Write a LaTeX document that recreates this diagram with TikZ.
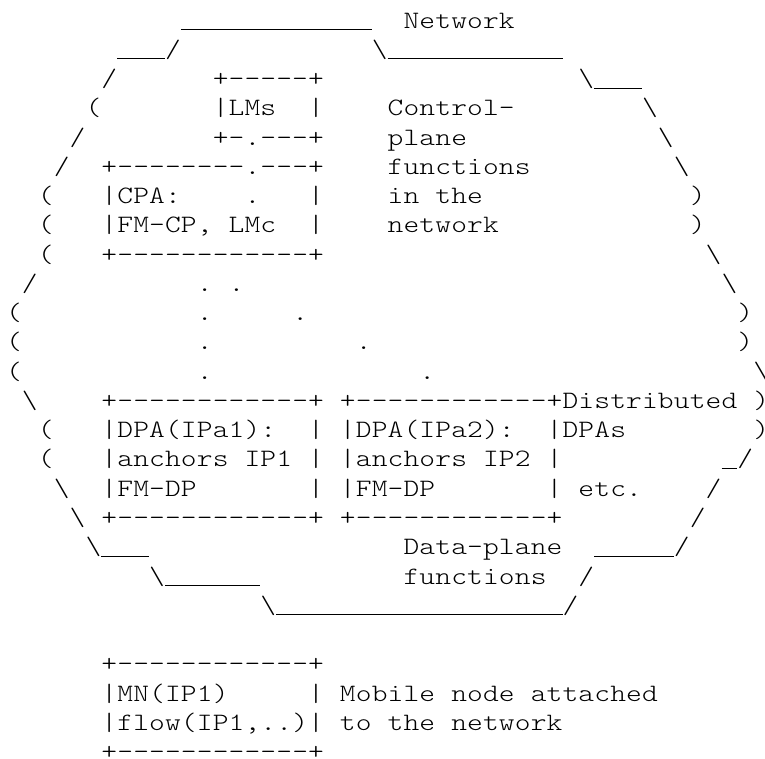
\documentclass[tikz,border=0pt]{standalone}
\usepackage{fontspec}
\newfontfamily\asciifont{lmmonolt10-regular.otf}[FakeStretch=1.2]
\newcommand\asbs{\textbackslash}
\newcommand\asus{\rule[-2pt]{15.9pt}{1.1pt}}
\makeatletter
\def\cell@end{\cell@end@mark}
\def\cellrow#1{\cell@step#1\cell@end}
\def\cell@step#1{\ifx#1\cell@end\else\makebox[15.9pt][c]{#1}\expandafter\cell@step\fi}
\makeatother
\begin{document}
\begin{tikzpicture}[x=1pt,y=1pt,
  ascii/.style={font=\asciifont\fontsize{25}{29.25}\selectfont, anchor=base west, inner sep=0pt, outer sep=0pt}]
\useasboundingbox (0,0) rectangle (765,758);
\fill[white] (0,0) rectangle (765,758);
\node[ascii] (r1) at (6,729.75) {\cellrow{~~~~~~~~~~~\asus\asus\asus\asus\asus\asus\asus\asus\asus\asus\asus\asus~~Network}};
\node[ascii] (r2) at (6,700.5) {\cellrow{~~~~~~~\asus\asus\asus/~~~~~~~~~~~~\asbs\asus\asus\asus\asus\asus\asus\asus\asus\asus\asus\asus}};
\node[ascii] (r3) at (6,671.25) {\cellrow{~~~~~~/~~~~~~+-----+~~~~~~~~~~~~~~~~\asbs\asus\asus\asus}};
\node[ascii] (r4) at (6,642) {\cellrow{~~~~~(~~~~~~~|LMs~~|~~~~Control-~~~~~~~~\asbs}};
\node[ascii] (r5) at (6,612.75) {\cellrow{~~~~/~~~~~~~~+-.---+~~~~plane~~~~~~~~~~~~\asbs}};
\node[ascii] (r6) at (6,583.5) {\cellrow{~~~/~~+--------.---+~~~~functions~~~~~~~~~\asbs}};
\node[ascii] (r7) at (6,554.25) {\cellrow{~~(~~~|CPA:~~~~.~~~|~~~~in~the~~~~~~~~~~~~~)}};
\node[ascii] (r8) at (6,525) {\cellrow{~~(~~~|FM-CP,~LMc~~|~~~~network~~~~~~~~~~~~)}};
\node[ascii] (r9) at (6,495.75) {\cellrow{~~(~~~+------------+~~~~~~~~~~~~~~~~~~~~~~~~\asbs}};
\node[ascii] (r10) at (6,466.5) {\cellrow{~/~~~~~~~~~~.~.~~~~~~~~~~~~~~~~~~~~~~~~~~~~~~\asbs}};
\node[ascii] (r11) at (6,437.25) {\cellrow{(~~~~~~~~~~~.~~~~~.~~~~~~~~~~~~~~~~~~~~~~~~~~~)}};
\node[ascii] (r12) at (6,408) {\cellrow{(~~~~~~~~~~~.~~~~~~~~~.~~~~~~~~~~~~~~~~~~~~~~~)}};
\node[ascii] (r13) at (6,378.75) {\cellrow{(~~~~~~~~~~~.~~~~~~~~~~~~~.~~~~~~~~~~~~~~~~~~~~\asbs}};
\node[ascii] (r14) at (6,349.5) {\cellrow{~\asbs~~~~+------------+~+------------+Distributed~)}};
\node[ascii] (r15) at (6,320.25) {\cellrow{~~(~~~|DPA(IPa1):~~|~|DPA(IPa2):~~|DPAs~~~~~~~~)}};
\node[ascii] (r16) at (6,291) {\cellrow{~~(~~~|anchors~IP1~|~|anchors~IP2~|~~~~~~~~~~\asus/}};
\node[ascii] (r17) at (6,261.75) {\cellrow{~~~\asbs~~|FM-DP~~~~~~~|~|FM-DP~~~~~~~|~etc.~~~~/}};
\node[ascii] (r18) at (6,232.5) {\cellrow{~~~~\asbs~+------------+~+------------+~~~~~~~~/}};
\node[ascii] (r19) at (6,203.25) {\cellrow{~~~~~\asbs\asus\asus\asus~~~~~~~~~~~~~~~~Data-plane~~\asus\asus\asus\asus\asus/}};
\node[ascii] (r20) at (6,174) {\cellrow{~~~~~~~~~\asbs\asus\asus\asus\asus\asus\asus~~~~~~~~~functions~~/}};
\node[ascii] (r21) at (6,144.75) {\cellrow{~~~~~~~~~~~~~~~~\asbs\asus\asus\asus\asus\asus\asus\asus\asus\asus\asus\asus\asus\asus\asus\asus\asus\asus\asus/}};
\node[ascii] (r23) at (6,86.25) {\cellrow{~~~~~~+------------+}};
\node[ascii] (r24) at (6,57) {\cellrow{~~~~~~|MN(IP1)~~~~~|~Mobile~node~attached}};
\node[ascii] (r25) at (6,27.75) {\cellrow{~~~~~~|flow(IP1,..)|~to~the~network}};
\node[ascii] (r26) at (6,-1.5) {\cellrow{~~~~~~+------------+}};
\end{tikzpicture}
\end{document}
